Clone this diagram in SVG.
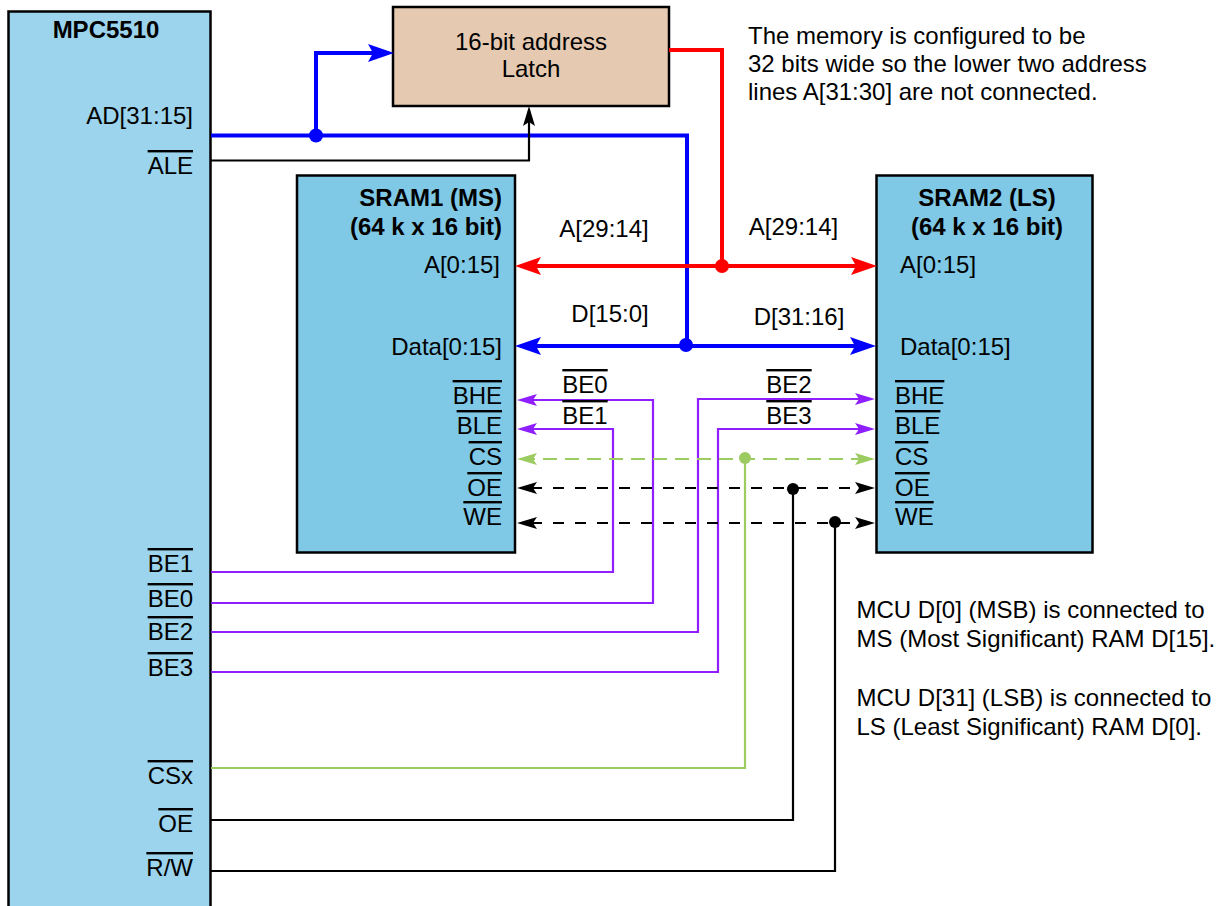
<svg xmlns="http://www.w3.org/2000/svg" width="1222" height="906" viewBox="0 0 1222 906">
<style>
text{font-family:"Liberation Sans",Arial,sans-serif;font-size:24px;fill:#000}
.b{font-weight:bold}
.e{text-anchor:end}
.m{text-anchor:middle}
.o{text-decoration:overline}
.box{stroke:#000;stroke-width:2.5}
.w{fill:none;stroke-linejoin:miter}
.blue{stroke:#0000ff;stroke-width:4}
.red{stroke:#ff0000;stroke-width:4}
.pur{stroke:#8f1fff;stroke-width:2.2}
.grn{stroke:#9ccb62;stroke-width:2.2}
.blk{stroke:#000;stroke-width:2.2}
.dg{stroke-dasharray:14 8}
.dk{stroke-dasharray:11 11;stroke-dashoffset:12}
</style>
<defs>
<marker id="hb" markerUnits="userSpaceOnUse" markerWidth="32" markerHeight="24" refX="20" refY="10" viewBox="0 0 32 20" orient="auto-start-reverse"><path d="M0 1L26 10L0 19L5 10Z" fill="#0000ff"/></marker>
<marker id="hr" markerUnits="userSpaceOnUse" markerWidth="32" markerHeight="24" refX="20" refY="10" viewBox="0 0 32 20" orient="auto-start-reverse"><path d="M0 1L26 10L0 19L5 10Z" fill="#ff0000"/></marker>
<marker id="hp" markerUnits="userSpaceOnUse" markerWidth="24" markerHeight="16" refX="16" refY="6" viewBox="0 0 24 12" orient="auto-start-reverse"><path d="M0 0L20 6L0 12L4 6Z" fill="#8f1fff"/></marker>
<marker id="hg" markerUnits="userSpaceOnUse" markerWidth="24" markerHeight="16" refX="16" refY="6" viewBox="0 0 24 12" orient="auto-start-reverse"><path d="M0 0L20 6L0 12L4 6Z" fill="#9ccb62"/></marker>
<marker id="hk" markerUnits="userSpaceOnUse" markerWidth="24" markerHeight="16" refX="16" refY="6" viewBox="0 0 24 12" orient="auto-start-reverse"><path d="M0 0L20 6L0 12L4 6Z" fill="#000"/></marker>
</defs>
<g id="mpc5510">
<rect class="box" x="8.500" y="11.500" width="202" height="910" fill="#9bd4ec"/>
<text class="b m" x="106" y="38">MPC5510</text>
<text class="e" x="193" y="124">AD[31:15]</text>
<text class="e o" x="193" y="174">ALE</text>
<text class="e o" x="193" y="572">BE1</text>
<text class="e o" x="193" y="607">BE0</text>
<text class="e o" x="193" y="640">BE2</text>
<text class="e o" x="193" y="676">BE3</text>
<text class="e o" x="193" y="784">CSx</text>
<text class="e o" x="193" y="832">OE</text>
<text class="e o" x="193" y="876">R/W</text>
</g>
<g id="latch">
<rect class="box" x="393" y="7" width="276" height="99" fill="#e5c9b0"/>
<text class="m" x="531" y="50">16-bit address</text>
<text class="m" x="531" y="77">Latch</text>
</g>
<g id="sram1">
<rect class="box" x="297" y="175.500" width="218" height="377" fill="#7fc9e6"/>
<text class="b e" x="502" y="206">SRAM1 (MS)</text>
<text class="b e" x="502" y="235">(64 k x 16 bit)</text>
<text class="e" x="500" y="273">A[0:15]</text>
<text class="e" x="502" y="355">Data[0:15]</text>
<text class="e o" x="502" y="404">BHE</text>
<text class="e o" x="502" y="434">BLE</text>
<text class="e o" x="502" y="465">CS</text>
<text class="e o" x="502" y="496">OE</text>
<text class="e o" x="502" y="525">WE</text>
</g>
<g id="sram2">
<rect class="box" x="876.500" y="175.500" width="216" height="377" fill="#7fc9e6"/>
<text class="b m" x="987" y="206">SRAM2 (LS)</text>
<text class="b m" x="987" y="235">(64 k x 16 bit)</text>
<text x="900" y="273">A[0:15]</text>
<text x="900" y="355">Data[0:15]</text>
<text class="o" x="895" y="404">BHE</text>
<text class="o" x="895" y="434">BLE</text>
<text class="o" x="895" y="465">CS</text>
<text class="o" x="895" y="496">OE</text>
<text class="o" x="895" y="525">WE</text>
</g>
<g id="connectors">
<path class="w blue" d="M211 135.500H687V346"/>
<path class="w blue" d="M316 135.500V53H388" marker-end="url(#hb)"/>
<path class="w blk" d="M211 160.500H529V110" marker-end="url(#hk)"/>
<path class="w red" d="M521 266H871" marker-start="url(#hr)" marker-end="url(#hr)"/>
<path class="w red" d="M669 50H722V266"/>
<path class="w blue" d="M521 346H870" marker-start="url(#hb)" marker-end="url(#hb)"/>
<path class="w pur" d="M211 603H653V400H521" marker-end="url(#hp)"/>
<path class="w pur" d="M211 572H613V429H521" marker-end="url(#hp)"/>
<path class="w pur" d="M211 632H698V399H871" marker-end="url(#hp)"/>
<path class="w pur" d="M211 672H718V429H871" marker-end="url(#hp)"/>
<path class="w grn" d="M211 768H745V458"/>
<path class="w grn dg" d="M521 459H871" marker-start="url(#hg)" marker-end="url(#hg)"/>
<path class="w blk" d="M211 820H793V489"/>
<path class="w blk dk" d="M521 488H871" marker-start="url(#hk)" marker-end="url(#hk)"/>
<path class="w blk" d="M211 871H835V522"/>
<path class="w blk dk" d="M521 523H871" marker-start="url(#hk)" marker-end="url(#hk)"/>
<circle cx="316" cy="135.500" r="7" fill="#0000ff"/>
<circle cx="722" cy="266" r="7" fill="#ff0000"/>
<circle cx="686" cy="345" r="7" fill="#0000ff"/>
<circle cx="745" cy="458" r="6" fill="#9ccb62"/>
<circle cx="793" cy="489" r="6" fill="#000"/>
<circle cx="835" cy="522" r="6" fill="#000"/>
</g>
<g id="labels">
<text class="m" x="604" y="237">A[29:14]</text>
<text class="m" x="793.500" y="235">A[29:14]</text>
<text class="m" x="610" y="322">D[15:0]</text>
<text class="m" x="799" y="325">D[31:16]</text>
<text class="m o" x="585" y="393">BE0</text>
<text class="m o" x="585" y="424">BE1</text>
<text class="m o" x="789" y="393">BE2</text>
<text class="m o" x="789" y="424">BE3</text>
<text x="748" y="44">The memory is configured to be</text>
<text x="748" y="72">32 bits wide so the lower two address</text>
<text x="748" y="100">lines A[31:30] are not connected.</text>
<text x="856.500" y="618">MCU D[0] (MSB) is connected to</text>
<text x="856.500" y="647">MS (Most Significant) RAM D[15].</text>
<text x="856.500" y="706">MCU D[31] (LSB) is connected to</text>
<text x="856.500" y="735">LS (Least Significant) RAM D[0].</text>
</g>
</svg>
